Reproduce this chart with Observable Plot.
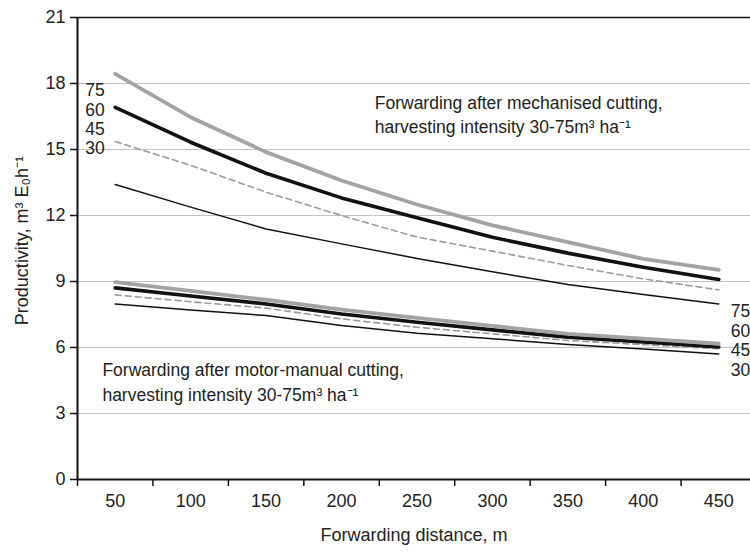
<!DOCTYPE html>
<html>
<head>
<meta charset="utf-8">
<script src="https://cdn.jsdelivr.net/npm/d3@7"></script>
<script src="https://cdn.jsdelivr.net/npm/@observablehq/plot@0.6"></script>
<style>
  html, body { margin: 0; padding: 0; background: #fff; overflow: hidden; }
  #chart { width: 750px; height: 556px; overflow: hidden; }
</style>
</head>
<body>
<div id="chart"></div>
<script>
// ---- Data ----
const distances = [50, 100, 150, 200, 250, 300, 350, 400, 450];          // x categories (m)
const intensities = [75, 60, 45, 30];                                      // harvesting intensity m³/ha
const yTicks = [0, 3, 6, 9, 12, 15, 18, 21];

// Forwarding after mechanised cutting
const mech75 = [18.44, 16.47, 14.88, 13.59, 12.50, 11.55, 10.79, 10.03, 9.53];
const mech60 = [16.92, 15.33, 13.92, 12.80, 11.90, 11.01, 10.29, 9.65, 9.09];
const mech45 = [15.36, 14.28, 13.06, 12.00, 11.02, 10.38, 9.73, 9.12, 8.62];
const mech30 = [13.41, 12.38, 11.39, 10.71, 10.05, 9.44, 8.86, 8.41, 7.98];

// Forwarding after motor-manual cutting
const manual75 = [8.97, 8.57, 8.17, 7.72, 7.35, 6.98, 6.62, 6.40, 6.17];
const manual60 = [8.71, 8.34, 7.98, 7.52, 7.15, 6.80, 6.47, 6.25, 6.02];
const manual45 = [8.39, 8.08, 7.79, 7.30, 6.92, 6.62, 6.32, 6.13, 5.94];
const manual30 = [7.98, 7.70, 7.45, 7.00, 6.65, 6.40, 6.14, 5.93, 5.71];

const annotMech = "Forwarding after mechanised cutting,\nharvesting intensity 30-75m³ ha⁻¹";
const annotManual = "Forwarding after motor-manual cutting,\nharvesting intensity 30-75m³ ha⁻¹";
const xTitle = "Forwarding distance, m";
const yTitle = "Productivity, m³ E₀h⁻¹";

// ---- Build tables ----
const seriesList = [
  {group: "mech", intensity: 75, values: mech75},
  {group: "mech", intensity: 60, values: mech60},
  {group: "mech", intensity: 45, values: mech45},
  {group: "mech", intensity: 30, values: mech30},
  {group: "manual", intensity: 75, values: manual75},
  {group: "manual", intensity: 60, values: manual60},
  {group: "manual", intensity: 45, values: manual45},
  {group: "manual", intensity: 30, values: manual30}
];
const rows = seriesList.flatMap(s => s.values.map((v, i) => ({
  group: s.group, intensity: s.intensity, distance: distances[i], value: v
})));

// category boundaries (ticks between categories, Excel style)
const step = distances[1] - distances[0];
const xBounds = distances.map(d => d - step / 2);
const xMin = distances[0] - step / 2;
const xMax = distances[distances.length - 1] + step / 2;

const styles = {
  75: {stroke: "#a3a3a3", strokeWidth: 3.8},
  60: {stroke: "#111", strokeWidth: 3.6},
  45: {stroke: "#9a9a9a", strokeWidth: 1.6, strokeDasharray: "6,4"},
  30: {stroke: "#111", strokeWidth: 1.5}
};

const lineMarks = [];
for (const g of ["mech", "manual"]) {
  for (const k of [30, 45, 60, 75]) {
    lineMarks.push(Plot.line(rows.filter(r => r.group === g && r.intensity === k), {
      x: "distance", y: "value", ...styles[k], strokeLinejoin: "round"
    }));
  }
}

const textColor = "#222";

const chart = Plot.plot({
  width: 750,
  height: 556,
  marginLeft: 77,
  marginRight: 0,
  marginTop: 17,
  marginBottom: 77,
  style: {fontFamily: "'Liberation Sans', Arial, sans-serif", fontSize: "18px", color: textColor, background: "#fff"},
  x: {type: "linear", domain: [xMin, xMax], range: [77, 756], label: null},
  y: {domain: [0, 21], label: null},
  marks: [
    Plot.ruleY(yTicks.filter(t => t > 0 && t < 21), {stroke: "#c2c2c2", strokeWidth: 1.2}),
    Plot.ruleY([21], {stroke: "#111", strokeWidth: 1.6}),
    ...lineMarks,
    Plot.ruleY([0], {stroke: "#111", strokeWidth: 2}),
    Plot.ruleX([xMin], {y1: 0, y2: 21, stroke: "#111", strokeWidth: 2}),
    Plot.axisY({ticks: yTicks, tickSize: 7, tickPadding: 5, fontSize: 18, stroke: "#111", strokeWidth: 1.5, fill: textColor, label: null}),
    Plot.axisX({ticks: xBounds, tickSize: 7, tickFormat: () => "", stroke: "#111", strokeWidth: 1.5, label: null}),
    Plot.axisX({ticks: distances, tickSize: 0, tickPadding: 15, fontSize: 18, fill: textColor, label: null}),
    // series labels, left (mechanised) and right (motor-manual)
    Plot.text(intensities, {x: 43, y: (k, i) => 17.68 - i * 0.88, text: k => String(k), textAnchor: "end", fontSize: 17.5, fill: textColor}),
    Plot.text(intensities, {x: 458, y: (k, i) => 7.62 - i * 0.88, text: k => String(k), textAnchor: "start", fontSize: 17.5, fill: textColor}),
    // annotations
    Plot.text([annotMech], {x: 222, y: 16.66, text: d => d, textAnchor: "start", lineHeight: 1.4, fontSize: 17.5, fill: textColor}),
    Plot.text([annotManual], {x: 41.5, y: 4.5, text: d => d, textAnchor: "start", lineHeight: 1.4, fontSize: 17.5, fill: textColor}),
    // axis titles
    Plot.text([xTitle], {frameAnchor: "bottom", dy: 61, text: d => d, fontSize: 18, fill: textColor}),
    Plot.text([yTitle], {x: -11.5, y: 10.86, rotate: -90, text: d => d, fontSize: 18, fill: textColor})
  ]
});
document.getElementById("chart").appendChild(chart);
</script>
</body>
</html>
